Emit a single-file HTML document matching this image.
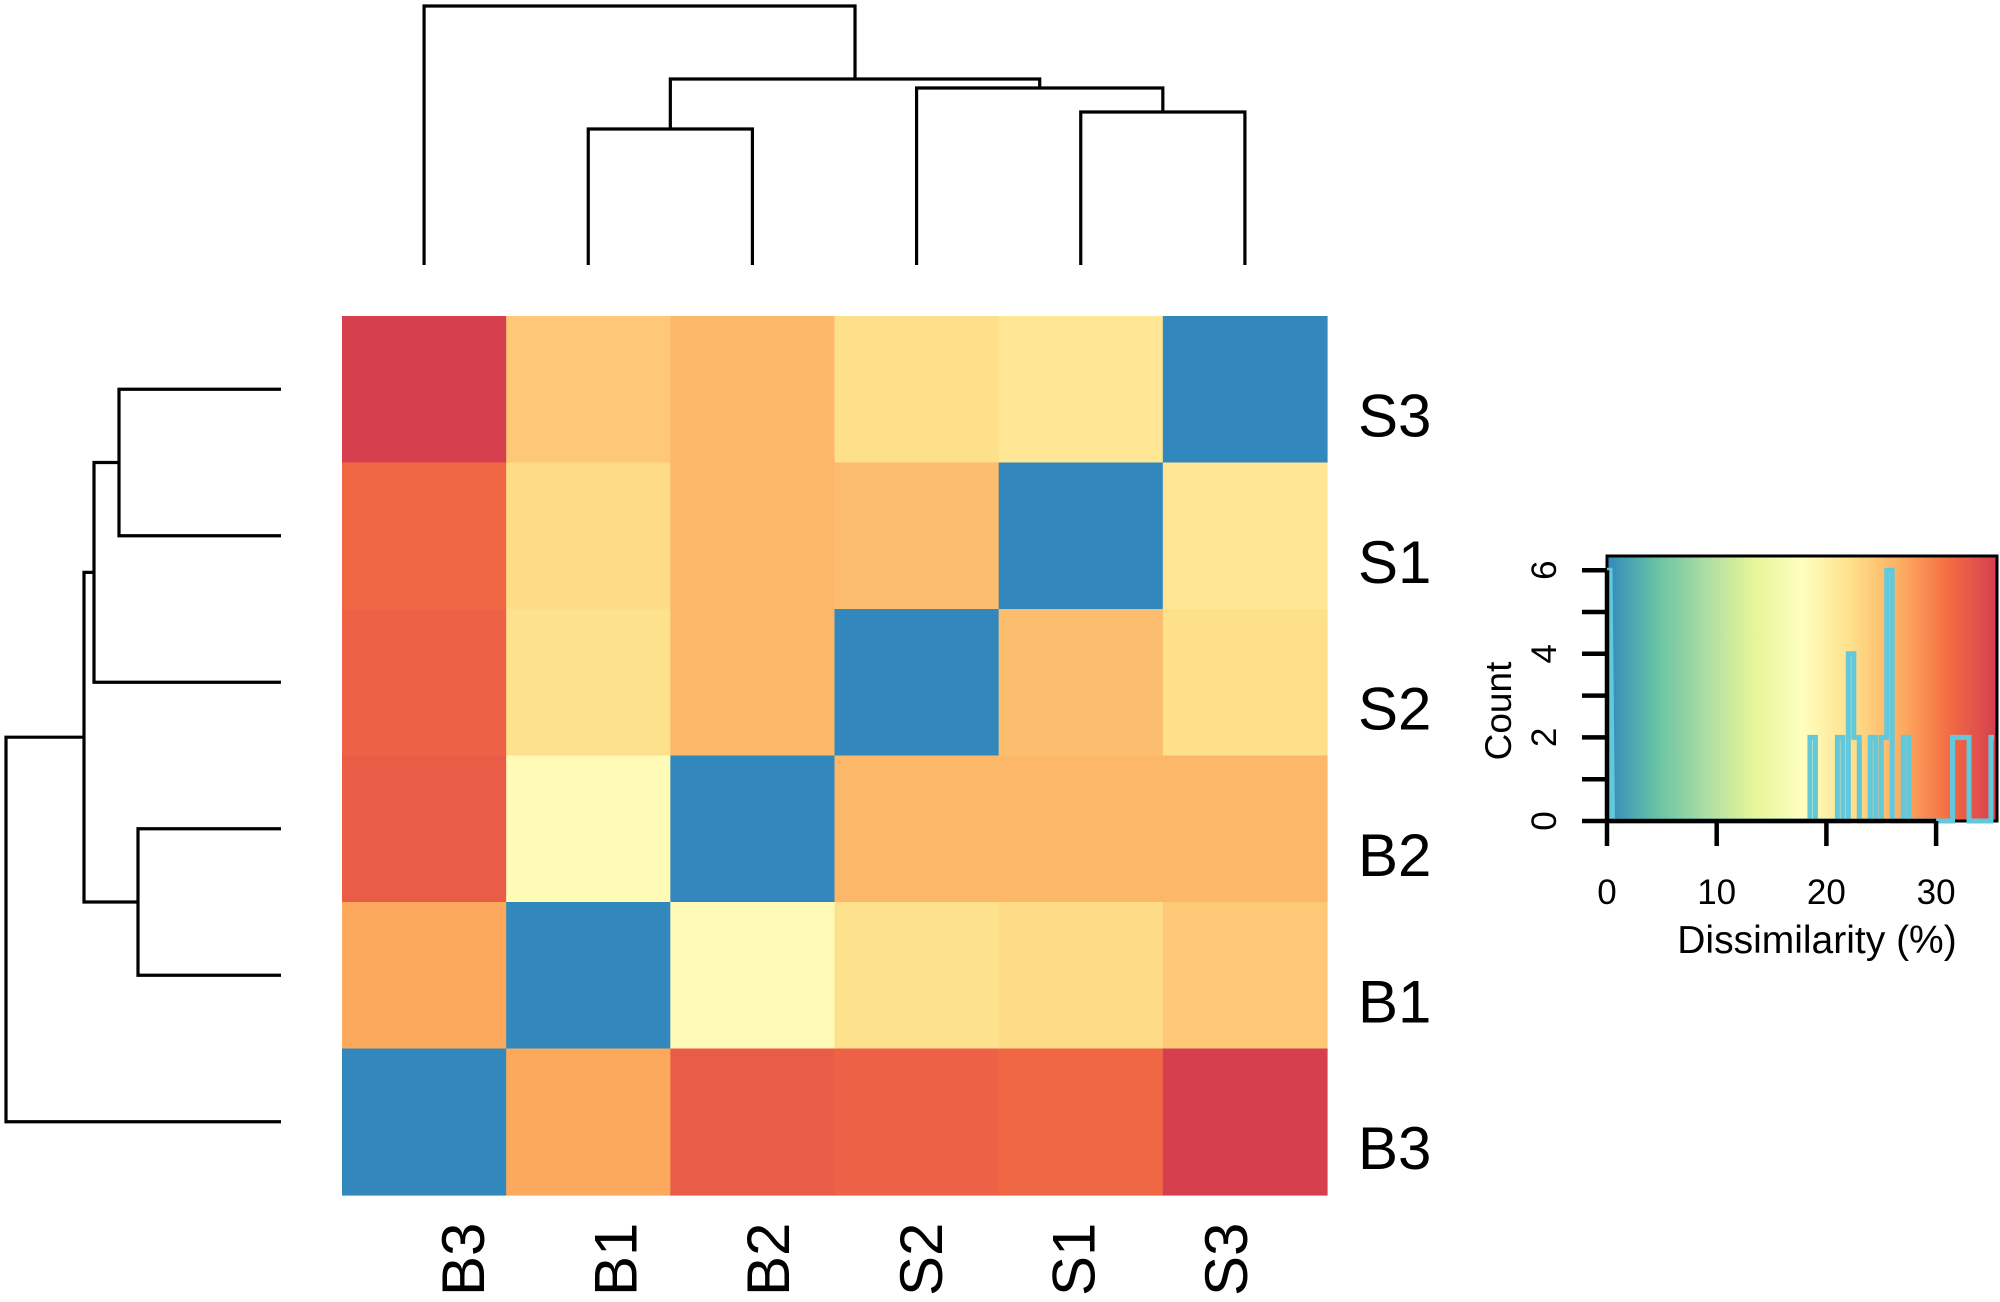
<!DOCTYPE html>
<html><head><meta charset="utf-8"><style>
html,body{margin:0;padding:0;background:#fff}
svg{display:block;font-family:"Liberation Sans",Arial,sans-serif}
</style></head><body>
<svg id="chart" width="2000" height="1302" viewBox="0 0 2000 1302" xmlns="http://www.w3.org/2000/svg"></svg>
<script>
const labels = ["B3","B1","B2","S2","S1","S3"];          // column order
const rowLabels = ["S3","S1","S2","B2","B1","B3"];        // row order top→bottom
const names = ["B1","B2","B3","S1","S2","S3"];
const dissim = [
 // B1   B2   B3   S1   S2   S3
 [0,   18.5,27,  22.6,22.1,24.3], // B1
 [18.5,0,   32.6,25.8,25.8,25.8], // B2
 [27,  32.6,0,   31.6,32.1,35.3], // B3
 [22.6,25.8,31.6,0,   25.3,21.4], // S1
 [22.1,25.8,32.1,25.3,0,   22.2], // S2
 [24.3,25.8,35.3,21.4,22.2,0   ]  // S3
];
const xTicks = [0,10,20,30];
const yTicks = [0,1,2,3,4,5,6];
const yTickLabels = ["0","2","4","6"];
const colMerges = [[1,2,18.5],[4,5,21.8],[3,"m1",25.8],["m0","m2",27.2],[0,"m3",35.4]];
const rowMerges = [[0,1,21.5],[3,4,18.5],[2,"m0",24],["m2","m1",26.5],[5,"m3",35.4]];

const NS="http://www.w3.org/2000/svg";
const svg=document.getElementById('chart');
function el(t,a,p){const e=document.createElementNS(NS,t);for(const k in a)e.setAttribute(k,a[k]);(p||svg).appendChild(e);return e;}

const stops=["#3288bd","#66c2a5","#abdda4","#e6f598","#ffffbf","#fee08b","#fdae61","#f46d43","#d53e4f"];
const vmax=35.5;
function hex(h){return [1,3,5].map(i=>parseInt(h.substr(i,2),16));}
function color(v){let t=Math.max(0,Math.min(1,v/vmax))*(stops.length-1);let i=Math.min(stops.length-2,Math.floor(t));let f=t-i;
 const a=hex(stops[i]),b=hex(stops[i+1]);return "rgb("+a.map((c,k)=>Math.round(c+(b[k]-c)*f)).join(",")+")";}

const HX=342,HY=316,HW=985,HH=879,CW=HW/6,CH=HH/6;
const colX=i=>HX+CW*(i+0.5), rowY=i=>HY+CH*(i+0.5);
const g=el('g',{});
rowLabels.forEach((r,ri)=>{labels.forEach((c,ci)=>{
 const v=dissim[names.indexOf(r)][names.indexOf(c)];
 const rc=el('rect',{x:HX+ci*CW,y:HY+ri*CH,width:CW+0.6,height:CH+0.6,fill:color(v)},g);
 
 
});});
rowLabels.forEach((r,ri)=>{const t=el('text',{x:1358,y:rowY(ri)+47,'font-size':60,fill:'#000'});t.textContent=r;
 
 });
labels.forEach((c,ci)=>{const x=484+ci*152.6,y=1296;const t=el('text',{x:x,y:y,'font-size':60,'text-anchor':'start',transform:`rotate(-90 ${x} ${y})`});t.textContent=c;
 
 });

function line(pts,parent){return el('polyline',{points:pts.map(p=>p.join(',')).join(' '),fill:'none',stroke:'#000','stroke-width':3.2},parent);}
const dTop=el('g',{});
const dLeft=el('g',{});
function build(merges,leafOrder,posFn,hFn,vertical,parent){
 const nodes={};leafOrder.forEach((n,i)=>nodes[i]={p:posFn(i),h:0});
 merges.forEach((m,k)=>{const a=nodes[m[0]],b=nodes[m[1]];const h=m[2];
  if(vertical) line([[a.p,hFn(a.h)],[a.p,hFn(h)],[b.p,hFn(h)],[b.p,hFn(b.h)]],parent);
  else line([[hFn(a.h),a.p],[hFn(h),a.p],[hFn(h),b.p],[hFn(b.h),b.p]],parent);
  nodes['m'+k]={p:(a.p+b.p)/2,h:h};});
}
const hyTop=h=>h===0?265:{18.5:129,21.8:112,25.8:88,27.2:79,35.4:6}[h];
build(colMerges,labels,colX,hyTop,true,dTop);
const hxLeft=h=>h===0?281:{21.5:119,18.5:138,24:94,26.5:84,35.4:6}[h];
build(rowMerges,rowLabels,rowY,hxLeft,false,dLeft);

// colour key with histogram
const PX=1607,PY=556,PW=390,PH=265;
const xs=v=>PX+v*10.97, ys=c=>821-c*41.8;
const defs=el('defs',{});const lg=el('linearGradient',{id:'kg',x1:0,x2:1,y1:0,y2:0},defs);
stops.forEach((s,i)=>el('stop',{offset:i/(stops.length-1),'stop-color':s},lg));
const key=el('rect',{x:PX,y:PY,width:PW,height:PH,fill:'url(#kg)',stroke:'#000','stroke-width':3});

const vals=[];for(let i=0;i<6;i++)for(let j=0;j<6;j++)vals.push(dissim[i][j]);
const bw=0.5,nb=Math.ceil(vmax/bw);const counts=new Array(nb).fill(0);
vals.forEach(v=>counts[Math.min(nb-1,Math.floor(v/bw))]++);
let pts=[[xs(0)+2,ys(0)]];for(let b=0;b<nb;b++){const c=counts[b];const x0=Math.max(PX+2,Math.min(xs(b*bw),PX+PW-3)),x1=Math.max(PX+2,Math.min(xs((b+1)*bw),PX+PW-3));pts.push([x0,ys(c)]);pts.push([x1,ys(c)]);}
pts[1][0]=PX+2;pts[2][0]=PX+3;
const hist=el('polyline',{points:pts.map(p=>p.join(',')).join(' '),fill:'none',stroke:'#62c9dc','stroke-width':5});

const ax=el('g',{stroke:'#000','stroke-width':4.5});
el('line',{x1:PX,y1:ys(0),x2:PX,y2:ys(6)},ax);
yTicks.forEach(t=>el('line',{x1:1582,y1:ys(t),x2:PX,y2:ys(t)},ax));
el('line',{x1:xs(0),y1:PY+PH,x2:xs(30),y2:PY+PH},ax);
xTicks.forEach(t=>el('line',{x1:xs(t),y1:PY+PH,x2:xs(t),y2:846},ax));
yTickLabels.forEach(l=>{const x=1556,y=ys(+l);const t=el('text',{x:x,y:y,'font-size':35,'text-anchor':'middle',transform:`rotate(-90 ${x} ${y})`});t.textContent=l;
 });
xTicks.forEach(v=>{const t=el('text',{x:xs(v),y:904,'font-size':35,'text-anchor':'middle'});t.textContent=v;
 });
const yt=el('text',{x:1511,y:711,'font-size':37,'text-anchor':'middle',transform:'rotate(-90 1511 711)'});yt.textContent='Count';

const xt=el('text',{x:1817,y:953,'font-size':39,'text-anchor':'middle'});xt.textContent='Dissimilarity (%)';

</script>
</body></html>
